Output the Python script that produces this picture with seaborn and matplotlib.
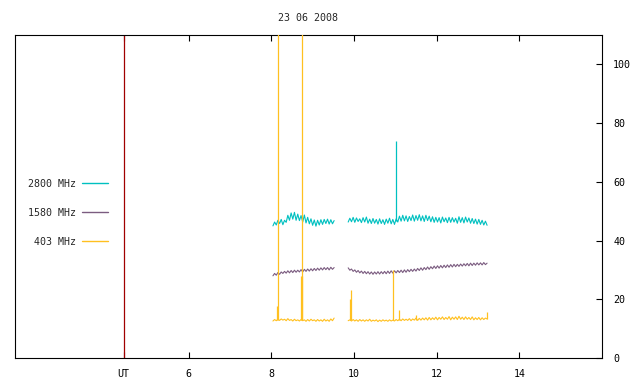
import numpy as np
import pandas as pd
import matplotlib
matplotlib.use("Agg")
import matplotlib.pyplot as plt
from matplotlib.lines import Line2D
import seaborn as sns

# ---------------- data ----------------
title = "23 06 2008"
series_names = ["2800 MHz", "1580 MHz", "403 MHz"]
series_colors = ["#00C0C0", "#7B5C80", "#FFC020"]
ut_marker = 4.43
ut_color = "#A00000"
x_ticks = [ut_marker, 6, 8, 10, 12, 14]
x_tick_labels = ["UT", "6", "8", "10", "12", "14"]
y_ticks = [0, 20, 40, 60, 80, 100]

# sampling of the two observing segments (hours UT)
t_seg1 = np.linspace(8.04, 9.52, 38)
t_seg2 = np.linspace(9.86, 13.22, 85)

f2800_seg1 = [45.0, 46.3, 45.3, 46.9, 45.8, 47.2, 45.4, 46.9, 46.2, 48.6,
              46.9, 49.4, 47.3, 49.6, 46.9, 49.0, 46.8, 48.5, 46.3, 48.7,
              46.0, 47.9, 45.7, 47.4, 45.2, 47.0, 44.9, 46.9, 45.3, 47.1,
              45.5, 47.2, 45.8, 47.3, 45.6, 47.1, 45.7, 46.8]
f2800_seg2 = [46.3, 47.6, 46.4, 47.9, 46.2, 47.7, 46.5, 47.4, 46.1, 47.8,
              46.3, 48.0, 45.9, 47.3, 45.8, 47.5, 45.9, 47.2, 45.6, 47.4,
              45.8, 47.1, 45.5, 47.3, 45.9, 47.6, 45.7, 47.2, 45.5, 47.4,
              46.3, 48.3, 46.6, 48.6, 46.7, 48.4, 46.5, 48.2, 46.8, 48.7,
              46.6, 48.5, 46.9, 48.8, 46.7, 48.4, 46.5, 48.6, 46.8, 48.3,
              46.4, 48.1, 46.2, 47.9, 46.3, 47.8, 46.0, 48.0, 46.4, 47.7,
              46.1, 47.9, 46.2, 47.8, 46.3, 47.6, 45.9, 48.1, 46.2, 47.8,
              46.0, 48.0, 46.3, 47.7, 45.9, 47.5, 45.8, 47.3, 45.6, 47.2,
              45.5, 46.9, 45.3, 46.6, 45.2]

f1580_seg1 = [28.0, 28.8, 28.2, 29.1, 28.5, 29.3, 28.8, 29.5, 28.9, 29.7,
              29.0, 29.8, 29.1, 29.9, 29.2, 29.9, 29.3, 30.1, 29.3, 30.2,
              29.5, 30.3, 29.6, 30.4, 29.7, 30.5, 29.8, 30.6, 29.9, 30.7,
              30.0, 30.8, 30.1, 30.8, 30.0, 30.9, 30.2, 30.8]
f1580_seg2 = [30.7, 29.9, 30.3, 29.5, 30.0, 29.2, 29.8, 29.0, 29.6, 28.8,
              29.5, 28.7, 29.4, 28.6, 29.3, 28.5, 29.3, 28.6, 29.4, 28.6,
              29.4, 28.7, 29.5, 28.7, 29.6, 28.8, 29.7, 28.9, 29.7, 29.0,
              29.8, 29.1, 29.9, 29.1, 30.0, 29.2, 30.1, 29.4, 30.2, 29.5,
              30.3, 29.6, 30.5, 29.8, 30.7, 29.9, 30.8, 30.1, 31.0, 30.2,
              31.1, 30.4, 31.3, 30.5, 31.4, 30.6, 31.5, 30.7, 31.6, 30.8,
              31.7, 30.9, 31.8, 31.0, 31.9, 31.1, 31.9, 31.2, 32.0, 31.3,
              32.1, 31.4, 32.2, 31.4, 32.3, 31.5, 32.3, 31.6, 32.4, 31.7,
              32.4, 31.7, 32.5, 31.8, 32.3]

f403_seg1 = [12.6, 13.1, 12.7, 13.2, 12.8, 13.3, 12.9, 13.2, 12.7, 13.4,
             12.8, 13.1, 12.6, 13.2, 12.7, 13.0, 12.6, 13.1, 12.7, 13.0,
             12.5, 13.1, 12.6, 13.2, 12.7, 13.0, 12.5, 13.1, 12.6, 13.0,
             12.5, 13.2, 12.6, 13.0, 12.5, 13.3, 12.7, 13.6]
f403_seg2 = [12.7, 13.0, 12.6, 13.1, 12.6, 13.0, 12.5, 13.1, 12.6, 13.0,
             12.5, 13.0, 12.6, 13.2, 12.5, 12.9, 12.6, 13.0, 12.4, 12.9,
             12.5, 13.0, 12.6, 12.9, 12.5, 13.0, 12.6, 12.9, 12.6, 13.1,
             12.7, 13.2, 12.7, 13.3, 12.8, 13.2, 12.8, 13.4, 12.7, 13.3,
             12.9, 13.6, 12.8, 13.5, 12.9, 13.6, 13.0, 13.7, 12.9, 13.8,
             13.0, 13.7, 13.1, 13.9, 13.0, 13.8, 13.2, 14.0, 13.1, 13.8,
             13.2, 14.1, 13.0, 13.9, 13.2, 14.0, 13.1, 14.2, 13.2, 13.9,
             13.1, 14.0, 13.2, 13.8, 13.1, 14.0, 13.0, 13.7, 13.1, 13.8,
             13.0, 13.7, 13.1, 13.6, 13.3]

# short bursts (time, base, peak)
spike_2800_t = [11.02]
spike_2800_lo = [46.5]
spike_2800_hi = [74.0]
spike_403_t = [8.13, 8.17, 8.72, 8.735, 8.75, 9.91, 9.94, 10.94, 11.10, 11.50, 13.22]
spike_403_lo = [12.8, 12.8, 12.8, 12.8, 12.8, 12.8, 12.8, 12.8, 12.8, 13.0, 13.3]
spike_403_hi = [17.7, 300.0, 28.0, 28.0, 300.0, 20.0, 23.3, 30.0, 16.3, 14.6, 15.6]

series_segments = {
    "2800 MHz": (f2800_seg1, f2800_seg2),
    "1580 MHz": (f1580_seg1, f1580_seg2),
    "403 MHz": (f403_seg1, f403_seg2),
}

rows = []
for name in series_names:
    s1, s2 = series_segments[name]
    assert len(s1) == len(t_seg1) and len(s2) == len(t_seg2), name
    for seg, (tt, vv) in enumerate(((t_seg1, s1), (t_seg2, s2))):
        for t, v in zip(tt, vv):
            rows.append({"time": t, "flux": v, "series": name, "segment": seg})
df = pd.DataFrame(rows)

# ---------------- plot ----------------
sns.set_style("white")
plt.rcParams["font.family"] = ["DejaVu Sans Mono", "DejaVu Sans"]

fig = plt.figure(figsize=(6.4, 3.84), dpi=100)
ax = fig.add_axes([15 / 640, 26 / 384, 587 / 640, 323 / 384])

ax.axvline(ut_marker, color=ut_color, lw=0.9, zorder=1)

palette = dict(zip(series_names, series_colors))
sns.lineplot(data=df, x="time", y="flux", hue="series", units="segment",
             estimator=None, sort=False, hue_order=series_names,
             palette=palette, linewidth=0.8, legend=False, ax=ax)

ax.vlines(spike_2800_t, spike_2800_lo, spike_2800_hi, colors=palette["2800 MHz"],
          lw=0.9, zorder=3)
ax.vlines(spike_403_t, spike_403_lo, spike_403_hi, colors=palette["403 MHz"],
          lw=0.9, zorder=4)

ax.set_xlim(1.8, 16.0)
ax.set_ylim(0, 110)
ax.set_xticks(x_ticks)
ax.set_xticklabels(x_tick_labels)
ax.set_yticks(y_ticks)
ax.yaxis.tick_right()
ax.tick_params(axis="x", direction="in", top=True, bottom=True, length=4,
               width=0.8, pad=8, labelsize=7.2, colors="black")
ax.tick_params(axis="y", direction="in", left=False, right=True, length=4,
               width=0.8, pad=8, labelsize=7.2, colors="black")
ax.set_xlabel("")
ax.set_ylabel("")
for sp in ax.spines.values():
    sp.set_color("black")
    sp.set_linewidth(0.8)
ax.grid(False)

ax.set_title(title, fontsize=7.2, pad=10)

handles = [Line2D([], [], color=c, lw=1.0) for c in series_colors]
labels = [n.rjust(8) for n in series_names]
ax.legend(handles, labels, loc="center left", bbox_to_anchor=(0.022, 0.449),
          frameon=False, markerfirst=False, fontsize=7.2, labelspacing=1.9,
          handlelength=2.6, handletextpad=0.65, borderpad=0, borderaxespad=0)

fig.savefig("out.png", dpi=100)
